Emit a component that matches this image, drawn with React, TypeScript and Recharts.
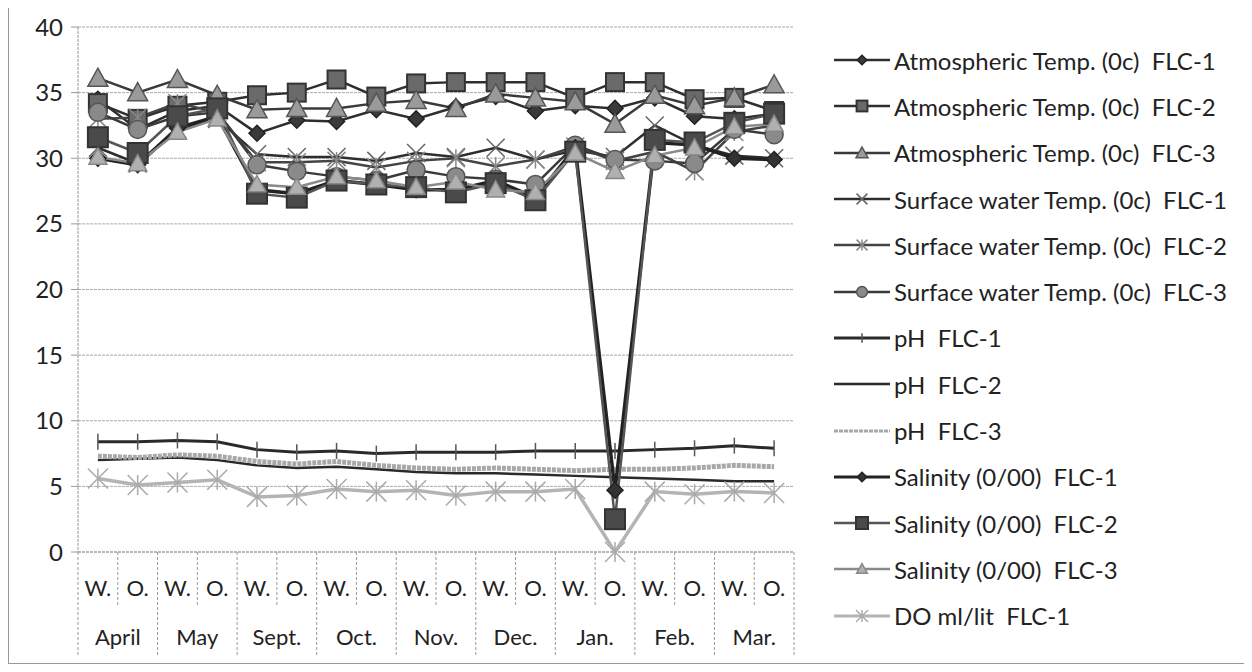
import React from 'react'
import { LineChart, Line, XAxis, YAxis, CartesianGrid, Legend } from 'recharts'

const MONTHS = ['April', 'May', 'Sept.', 'Oct.', 'Nov.', 'Dec.', 'Jan.', 'Feb.', 'Mar.']
const HALVES = ['W.', 'O.']
const Y_TICKS = [0, 5, 10, 15, 20, 25, 30, 35, 40]

// upper band (°C and ‰)
const atmTemp1 = [34.5, 32.2, 33.6, 34.0, 31.9, 32.9, 32.8, 33.7, 33.0, 33.9, 34.7, 33.6, 34.0, 33.8, 34.6, 33.2, 33.0, 33.4]
const atmTemp2 = [34.2, 33.0, 34.0, 34.3, 34.8, 35.0, 36.0, 34.7, 35.7, 35.8, 35.8, 35.8, 34.6, 35.8, 35.8, 34.5, 34.6, 33.6]
const atmTemp3 = [36.1, 35.0, 36.0, 34.8, 33.7, 33.8, 33.8, 34.2, 34.4, 33.8, 34.9, 34.6, 34.3, 32.6, 34.8, 34.0, 34.6, 35.6]
const swTemp1 = [30.8, 29.6, 32.2, 33.0, 30.3, 30.1, 30.1, 29.8, 30.4, 30.1, 30.8, 29.9, 30.6, 30.1, 32.5, 31.0, 30.2, 30.0]
const swTemp2 = [33.0, 33.1, 34.2, 33.5, 29.7, 29.7, 29.8, 29.3, 29.8, 30.0, 29.4, 29.9, 30.9, 29.8, 30.5, 29.0, 32.0, 32.5]
const swTemp3 = [33.5, 32.2, 33.2, 33.5, 29.5, 29.0, 28.6, 28.3, 29.1, 28.6, 28.4, 28.0, 31.0, 29.9, 29.8, 29.6, 32.2, 31.8]
const salinity1 = [30.0, 29.5, 32.3, 33.2, 27.6, 27.3, 28.3, 28.0, 27.6, 27.6, 28.3, 27.0, 30.8, 4.7, 31.2, 31.0, 30.0, 29.9]
const salinity2 = [31.6, 30.4, 33.2, 33.8, 27.3, 27.0, 28.3, 28.0, 27.8, 27.4, 28.1, 26.8, 30.5, 2.5, 31.4, 31.2, 32.7, 33.4]
const salinity3 = [30.1, 29.6, 32.0, 33.0, 28.0, 27.8, 28.6, 28.3, 27.8, 28.2, 27.6, 27.4, 30.4, 29.0, 30.2, 30.8, 32.4, 32.6]
// lower band
const ph1 = [8.4, 8.4, 8.5, 8.4, 7.8, 7.6, 7.7, 7.5, 7.6, 7.6, 7.6, 7.7, 7.7, 7.7, 7.8, 7.9, 8.1, 7.9]
const ph2 = [7.0, 7.1, 7.2, 7.0, 6.6, 6.4, 6.5, 6.3, 6.1, 6.0, 6.0, 5.9, 5.8, 5.7, 5.6, 5.5, 5.4, 5.4]
const ph3 = [7.3, 7.2, 7.4, 7.3, 6.9, 6.7, 6.9, 6.6, 6.4, 6.3, 6.4, 6.3, 6.2, 6.3, 6.3, 6.4, 6.6, 6.5]
const do1 = [5.6, 5.1, 5.3, 5.5, 4.2, 4.3, 4.8, 4.6, 4.7, 4.3, 4.6, 4.6, 4.8, 0, 4.6, 4.4, 4.6, 4.5]

const SERIES = [
  { key: 'atm1', name: 'Atmospheric Temp. (0c)  FLC-1', values: atmTemp1, color: '#2e2e2e', width: 2.5, shape: 'diamond', size: 8, fill: '#3a3a3a', mstroke: '#222' },
  { key: 'atm2', name: 'Atmospheric Temp. (0c)  FLC-2', values: atmTemp2, color: '#2e2e2e', width: 2.5, shape: 'square', size: 9, fill: '#6a6a6a', mstroke: '#333' },
  { key: 'atm3', name: 'Atmospheric Temp. (0c)  FLC-3', values: atmTemp3, color: '#3a3a3a', width: 2.5, shape: 'triangle', size: 10, fill: '#9a9a9a', mstroke: '#555' },
  { key: 'sw1', name: 'Surface water Temp. (0c)  FLC-1', values: swTemp1, color: '#2e2e2e', width: 2.5, shape: 'x', size: 9, fill: 'none', mstroke: '#666' },
  { key: 'sw2', name: 'Surface water Temp. (0c)  FLC-2', values: swTemp2, color: '#444', width: 2.5, shape: 'star', size: 9, fill: 'none', mstroke: '#888' },
  { key: 'sw3', name: 'Surface water Temp. (0c)  FLC-3', values: swTemp3, color: '#3a3a3a', width: 2.5, shape: 'circle', size: 9, fill: '#8a8a8a', mstroke: '#555' },
  { key: 'ph1', name: 'pH  FLC-1', values: ph1, color: '#2a2a2a', width: 3, shape: 'tick', size: 8, fill: 'none', mstroke: '#555' },
  { key: 'ph2', name: 'pH  FLC-2', values: ph2, color: '#2a2a2a', width: 2.5, shape: 'none', size: 0, fill: 'none', mstroke: 'none' },
  { key: 'ph3', name: 'pH  FLC-3', values: ph3, color: '#a8a8a8', width: 5, shape: 'none', size: 0, fill: 'none', mstroke: 'none', dash: '4 1' },
  { key: 'sal1', name: 'Salinity (0/00)  FLC-1', values: salinity1, color: '#222', width: 3.5, shape: 'diamond', size: 8, fill: '#333', mstroke: '#222' },
  { key: 'sal2', name: 'Salinity (0/00)  FLC-2', values: salinity2, color: '#555', width: 2.5, shape: 'square', size: 10, fill: '#4a4a4a', mstroke: '#333' },
  { key: 'sal3', name: 'Salinity (0/00)  FLC-3', values: salinity3, color: '#8a8a8a', width: 2.5, shape: 'triangle', size: 9, fill: '#b0b0b0', mstroke: '#888' },
  { key: 'do1', name: 'DO ml/lit  FLC-1', values: do1, color: '#b4b4b4', width: 3.5, shape: 'star', size: 10, fill: 'none', mstroke: '#aaa' },
]

const data = MONTHS.flatMap((m, mi) =>
  HALVES.map((h, hi) => {
    const i = mi * 2 + hi
    const row: any = { cat: `${m} ${h}` }
    SERIES.forEach((s) => (row[s.key] = s.values[i]))
    return row
  })
)

const FONT = 'Lato, "Open Sans", sans-serif'
const STEP = 716 / 18

function Marker({ shape, cx, cy, s, fill, stroke }: any) {
  switch (shape) {
    case 'diamond':
      return <polygon points={`${cx},${cy - s} ${cx + s},${cy} ${cx},${cy + s} ${cx - s},${cy}`} fill={fill} stroke={stroke} strokeWidth={1.5} />
    case 'square':
      return <rect x={cx - s} y={cy - s} width={2 * s} height={2 * s} fill={fill} stroke={stroke} strokeWidth={2} />
    case 'triangle':
      return <polygon points={`${cx},${cy - s} ${cx + s},${cy + s * 0.8} ${cx - s},${cy + s * 0.8}`} fill={fill} stroke={stroke} strokeWidth={1.5} />
    case 'circle':
      return <circle cx={cx} cy={cy} r={s} fill={fill} stroke={stroke} strokeWidth={1.5} />
    case 'x':
      return (
        <g stroke={stroke} strokeWidth={1.5}>
          <line x1={cx - s} y1={cy - s} x2={cx + s} y2={cy + s} />
          <line x1={cx - s} y1={cy + s} x2={cx + s} y2={cy - s} />
        </g>
      )
    case 'star':
      return (
        <g stroke={stroke} strokeWidth={1.5}>
          <line x1={cx - s} y1={cy - s} x2={cx + s} y2={cy + s} />
          <line x1={cx - s} y1={cy + s} x2={cx + s} y2={cy - s} />
          <line x1={cx} y1={cy - s} x2={cx} y2={cy + s} />
        </g>
      )
    case 'tick':
      return <line x1={cx} y1={cy - s} x2={cx} y2={cy + s} stroke={stroke} strokeWidth={1.5} />
    default:
      return null
  }
}

const dotFor = (s: any) => (p: any) => {
  if (p.cx == null || p.cy == null || p.value == null || s.shape === 'none') return <g key={p.index} />
  return (
    <g key={p.index}>
      <Marker shape={s.shape} cx={p.cx} cy={p.cy} s={s.size} fill={s.fill} stroke={s.mstroke} />
    </g>
  )
}

function CatTick({ x, y, payload }: any) {
  const i = payload.index
  const half = HALVES[i % 2]
  const month = MONTHS[Math.floor(i / 2)]
  const dash = '3 2'
  return (
    <g>
      <text x={x} y={y + 44} textAnchor="middle" fontFamily={FONT} fontSize={22} fill="#222">
        {half}
      </text>
      {i % 2 === 1 ? (
        <>
          <line x1={x - STEP / 2} x2={x - STEP / 2} y1={y} y2={y + 55} stroke="#999" strokeDasharray={dash} />
          <text x={x - STEP / 2} y={y + 93} textAnchor="middle" fontFamily={FONT} fontSize={22} fill="#222">
            {month}
          </text>
        </>
      ) : (
        <line x1={x - STEP / 2} x2={x - STEP / 2} y1={y} y2={y + 105} stroke="#999" strokeDasharray={dash} />
      )}
      {i === data.length - 1 && (
        <line x1={x + STEP / 2} x2={x + STEP / 2} y1={y} y2={y + 105} stroke="#999" strokeDasharray={dash} />
      )}
    </g>
  )
}

function LegendBox() {
  return (
    <div style={{ fontFamily: FONT, fontSize: 24, color: '#222' }}>
      {SERIES.map((s) => (
        <div key={s.key} style={{ height: 46.3, display: 'flex', alignItems: 'center' }}>
          <svg width={56} height={22} style={{ flex: 'none' }}>
            <line x1={0} x2={56} y1={11} y2={11} stroke={s.color} strokeWidth={Math.min(s.width, 3)} strokeDasharray={s.dash} />
            <Marker shape={s.shape} cx={28} cy={11} s={Math.max(4, s.size * 0.6)} fill={s.fill} stroke={s.mstroke} />
          </svg>
          <span style={{ marginLeft: 4, whiteSpace: 'pre' }}>{s.name}</span>
        </div>
      ))}
    </div>
  )
}

export default function App() {
  return (
    <div style={{ width: 1236, height: 655, borderLeft: '1px solid #999', borderBottom: '1px solid #999', background: '#fff' }}>
      <LineChart width={1235} height={655} data={data} margin={{ top: 19, right: 450, bottom: 0, left: 0 }}>
        <CartesianGrid vertical={false} stroke="#aaa" strokeDasharray="3 1" />
        <XAxis
          dataKey="cat"
          interval={0}
          height={111}
          padding={{ left: STEP / 2, right: STEP / 2 }}
          tick={<CatTick />}
          tickLine={false}
          tickSize={0}
          tickMargin={0}
          axisLine={{ stroke: '#999', strokeDasharray: '3 1' }}
        />
        <YAxis
          domain={[0, 40]}
          ticks={Y_TICKS}
          width={69}
          tickSize={7}
          tickMargin={8}
          tick={{ fontFamily: FONT, fontSize: 24, fill: '#222' }}
          tickLine={{ stroke: '#999' }}
          axisLine={{ stroke: '#999', strokeDasharray: '3 1' }}
        />
        <Legend
          layout="horizontal"
          verticalAlign="middle"
          align="center"
          content={<LegendBox />}
          wrapperStyle={{ position: 'absolute', left: 825, top: 29, width: 410 }}
        />
        {SERIES.map((s) => (
          <Line
            key={s.key}
            dataKey={s.key}
            name={s.name}
            stroke={s.color}
            strokeWidth={s.width}
            strokeDasharray={s.dash}
            dot={dotFor(s)}
            activeDot={false}
            isAnimationActive={false}
          />
        ))}
      </LineChart>
    </div>
  )
}
